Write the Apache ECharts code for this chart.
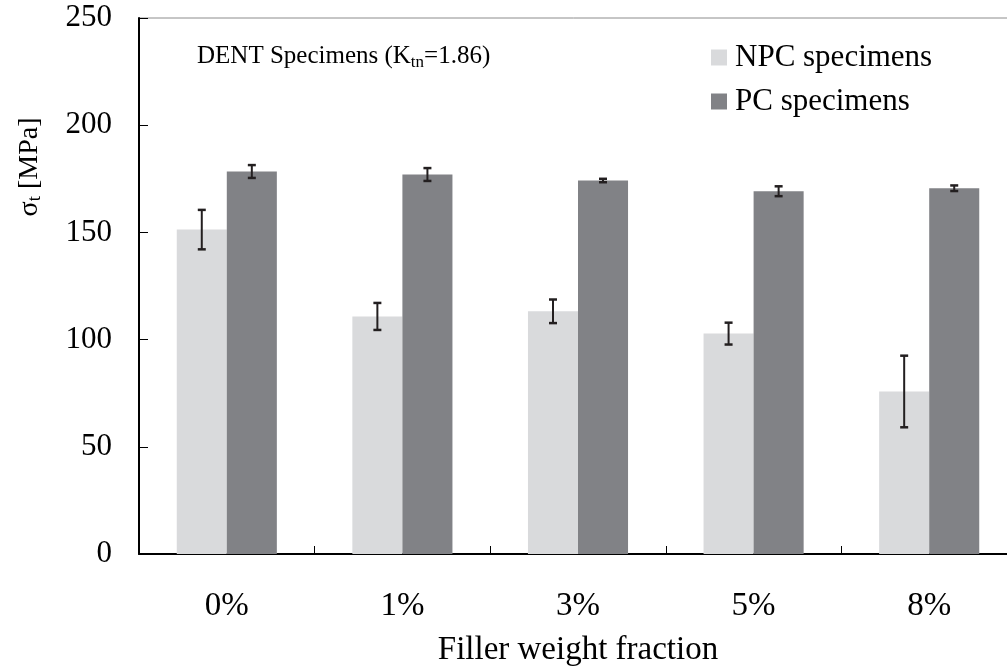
<!DOCTYPE html>
<html>
<head>
<meta charset="utf-8">
<title>DENT Specimens</title>
<script src="https://cdn.jsdelivr.net/npm/echarts@6/dist/echarts.min.js"></script>
<style>
  html, body { margin: 0; padding: 0; background: #fff; }
  #chart { width: 1007px; height: 666px; }
</style>
</head>
<body>
<div id="chart"></div>
<script>
// Tensile strength of DENT specimens by filler weight fraction
const categories = ['0%', '1%', '3%', '5%', '8%'];
const npcMean = [151.3, 110.8, 113.2, 102.8, 75.8];
const npcErr  = [9.2, 6.3, 5.5, 5.1, 16.7];
const pcMean  = [178.4, 177.0, 174.2, 169.2, 170.6];
const pcErr   = [3.0, 3.0, 0.8, 2.3, 1.3];
const yTicks  = { min: 0, max: 250, interval: 50 };

const FONT = 'Liberation Serif, Times New Roman, serif';
const BAR_FRAC = 0.285;          // bar width as a share of the category band
const NPC_COLOR = '#d9dadc';
const PC_COLOR = '#818286';

const chart = echarts.init(document.getElementById('chart'), null, { renderer: 'canvas' });

// error bar drawn at the centre of the bar of one series
function errorBars(means, errs, side) {
  return {
    type: 'custom',
    z: 5,
    silent: true,
    data: means.map((m, i) => [i, m, errs[i]]),
    renderItem(params, api) {
      const band = api.size([1, 0])[0];
      const i = api.value(0), m = api.value(1), e = api.value(2);
      const x = api.coord([i, 0])[0] + side * band * BAR_FRAC / 2;
      const yTop = api.coord([i, m + e])[1];
      const yBot = api.coord([i, m - e])[1];
      const cap = 4;
      const style = { stroke: '#231f20', lineWidth: 2 };
      const capStyle = { stroke: '#231f20', lineWidth: 2.5 };
      return {
        type: 'group',
        children: [
          { type: 'line', shape: { x1: x, y1: yTop, x2: x, y2: yBot }, style },
          { type: 'line', shape: { x1: x - cap, y1: yTop, x2: x + cap, y2: yTop }, style: capStyle },
          { type: 'line', shape: { x1: x - cap, y1: yBot, x2: x + cap, y2: yBot }, style: capStyle }
        ]
      };
    }
  };
}

const option = {
  backgroundColor: '#fff',
  animation: false,
  title: {
    text: 'DENT Specimens (K{sub|tn}=1.86)',
    left: 192,
    top: 36,
    textStyle: {
      fontFamily: FONT, fontSize: 25, fontWeight: 'normal', color: '#000', lineHeight: 30,
      rich: {
        sub: { fontFamily: FONT, fontSize: 17, lineHeight: 17, verticalAlign: 'bottom', color: '#000' }
      }
    }
  },
  legend: {
    data: ['NPC specimens', 'PC specimens'],
    orient: 'vertical',
    left: 706,
    top: 37,
    icon: 'rect',
    itemWidth: 16,
    itemHeight: 16,
    itemGap: 13,
    textStyle: { fontFamily: FONT, fontSize: 31, color: '#000', padding: [0, 0, 0, 3] }
  },
  grid: {
    left: 139, top: 18, width: 878, height: 536,
    outerBoundsMode: 'none',
    containLabel: false,
    show: true, borderColor: '#8c8c8c', borderWidth: 1, backgroundColor: 'transparent'
  },
  graphic: [{
    type: 'text',
    x: 30,
    y: 167,
    rotation: Math.PI / 2,
    style: {
      text: 'σ{sub|t} [MPa]',
      fontFamily: FONT, fontSize: 28, fill: '#000',
      align: 'center', verticalAlign: 'middle', lineHeight: 30,
      rich: {
        sub: { fontFamily: FONT, fontSize: 19, lineHeight: 19, verticalAlign: 'bottom' }
      }
    }
  }],
  xAxis: {
    type: 'category',
    data: categories,
    boundaryGap: true,
    name: 'Filler weight fraction',
    nameLocation: 'middle',
    nameGap: 80,
    nameTextStyle: { fontFamily: FONT, fontSize: 33, color: '#000' },
    axisLine: { lineStyle: { color: '#000', width: 2 } },
    axisTick: { show: true, inside: true, length: 8, lineStyle: { color: '#000', width: 1 } },
    axisLabel: { fontFamily: FONT, fontSize: 33, color: '#000', margin: 36 },
    splitLine: { show: false }
  },
  yAxis: {
    type: 'value',
    min: yTicks.min,
    max: yTicks.max,
    interval: yTicks.interval,
    axisLine: { show: true, lineStyle: { color: '#000', width: 2 } },
    axisTick: { show: true, inside: true, length: 9, lineStyle: { color: '#000', width: 1 } },
    axisLabel: { fontFamily: FONT, fontSize: 31, color: '#000', margin: 27 },
    splitLine: { show: false }
  },
  series: [
    {
      name: 'NPC specimens',
      type: 'bar',
      data: npcMean,
      barWidth: (BAR_FRAC * 100) + '%',
      barGap: '0%',
      itemStyle: { color: NPC_COLOR }
    },
    {
      name: 'PC specimens',
      type: 'bar',
      data: pcMean,
      barWidth: (BAR_FRAC * 100) + '%',
      barGap: '0%',
      itemStyle: { color: PC_COLOR }
    },
    errorBars(npcMean, npcErr, -1),
    errorBars(pcMean, pcErr, 1)
  ]
};

chart.setOption(option);
</script>
</body>
</html>
